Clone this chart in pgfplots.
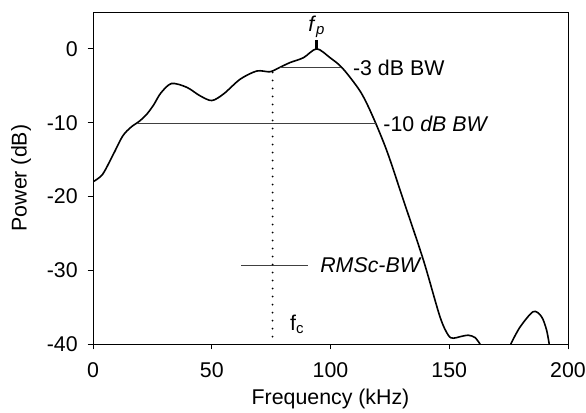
\documentclass[border=0pt]{standalone}
\usepackage{fontspec}
\setmainfont{Liberation Sans}
\usepackage{pgfplots}
\pgfplotsset{compat=1.18}

\newcommand{\lab}{\fontsize{16}{19}\selectfont}

\begin{document}
\begin{tikzpicture}
\begin{axis}[
    scale only axis,
    width=356pt, height=249pt,
    xmin=0, xmax=200, ymin=-40, ymax=5,
    xtick={0,50,...,200}, ytick={-40,-30,...,0},
    tick align=outside, xtick pos=bottom, ytick pos=left,
    major tick length=4pt,
    tick style={black, line width=0.6pt},
    axis line style={line width=0.6pt},
    font=\lab,
    /pgf/number format/assume math mode=true,
    xticklabel style={yshift=-6pt},
    yticklabel style={xshift=-4pt},
    xlabel={Frequency (kHz)}, ylabel={Power (dB)},
    xlabel style={yshift=-2pt}, ylabel style={yshift=5pt},
]
% spectrum, main lobe
\addplot[black, line width=1.2pt, smooth, tension=0.5] coordinates {
 (0,-18.0) (4,-17.0) (8.5,-14.3) (12.5,-11.8) (16,-10.6) (19.5,-9.8)
 (22.5,-8.9) (25.5,-7.6) (28.5,-6.0) (33,-4.7) (39.4,-5.2) (45,-6.35)
 (50,-7.0) (55,-6.1) (62,-4.1) (69,-3.0) (74.5,-3.1) (78.7,-2.5)
 (83,-1.85) (88.6,-1.2) (94.2,0) (99.8,-1.2) (105,-2.6) (112.4,-5.7)
 (117.3,-8.8) (123.7,-13.8) (130.7,-20.5) (139.1,-28.6) (146.1,-36.3)
 (149.6,-38.8) (151.7,-39.2) (154.5,-39.0) (158,-38.8) (160.8,-39.1) (163,-40)
};
% side lobe
\addplot[black, line width=1.2pt, smooth, tension=0.5] coordinates {
 (175.9,-40) (179.8,-37.7) (185.4,-35.6) (188.9,-36.3) (191,-38.1) (192.1,-40)
};
% bandwidth markers
\addplot[black!75, line width=0.7pt] coordinates {(78.7,-2.5) (104.6,-2.5)};
\addplot[black!75, line width=0.7pt] coordinates {(18.4,-10.1) (119.2,-10.1)};
\addplot[black!75, line width=0.7pt] coordinates {(62.3,-29.3) (90.7,-29.3)};
\addplot[black, line width=2pt] coordinates {(94.2,0) (94.2,1.2)};
\addplot[black, line width=1.5pt, line cap=round, dash pattern=on 0pt off 6pt]
    coordinates {(75.6,-3.2) (75.6,-40)};

\node[anchor=south, inner sep=1pt] at (axis cs:94.2,1.3) {\textit{f}\textsubscript{\textit{p}}};
\node[anchor=west, inner sep=0pt] at (axis cs:109.4,-2.6) {-3 dB BW};
\node[anchor=west, inner sep=0pt] at (axis cs:122.2,-10.1) {-10 \textit{dB BW}};
\node[anchor=west, inner sep=0pt] at (axis cs:95.6,-29.3) {\textit{RMSc-BW}};
\node[inner sep=0pt] at (axis cs:86,-37.3) {f\textsubscript{c}};

\coordinate (bl) at (rel axis cs:-0.196,-0.205);
\coordinate (tr) at (rel axis cs:1.038,1.036);
\end{axis}
\pgfresetboundingbox
\path (bl) rectangle (tr);
\end{tikzpicture}
\end{document}
